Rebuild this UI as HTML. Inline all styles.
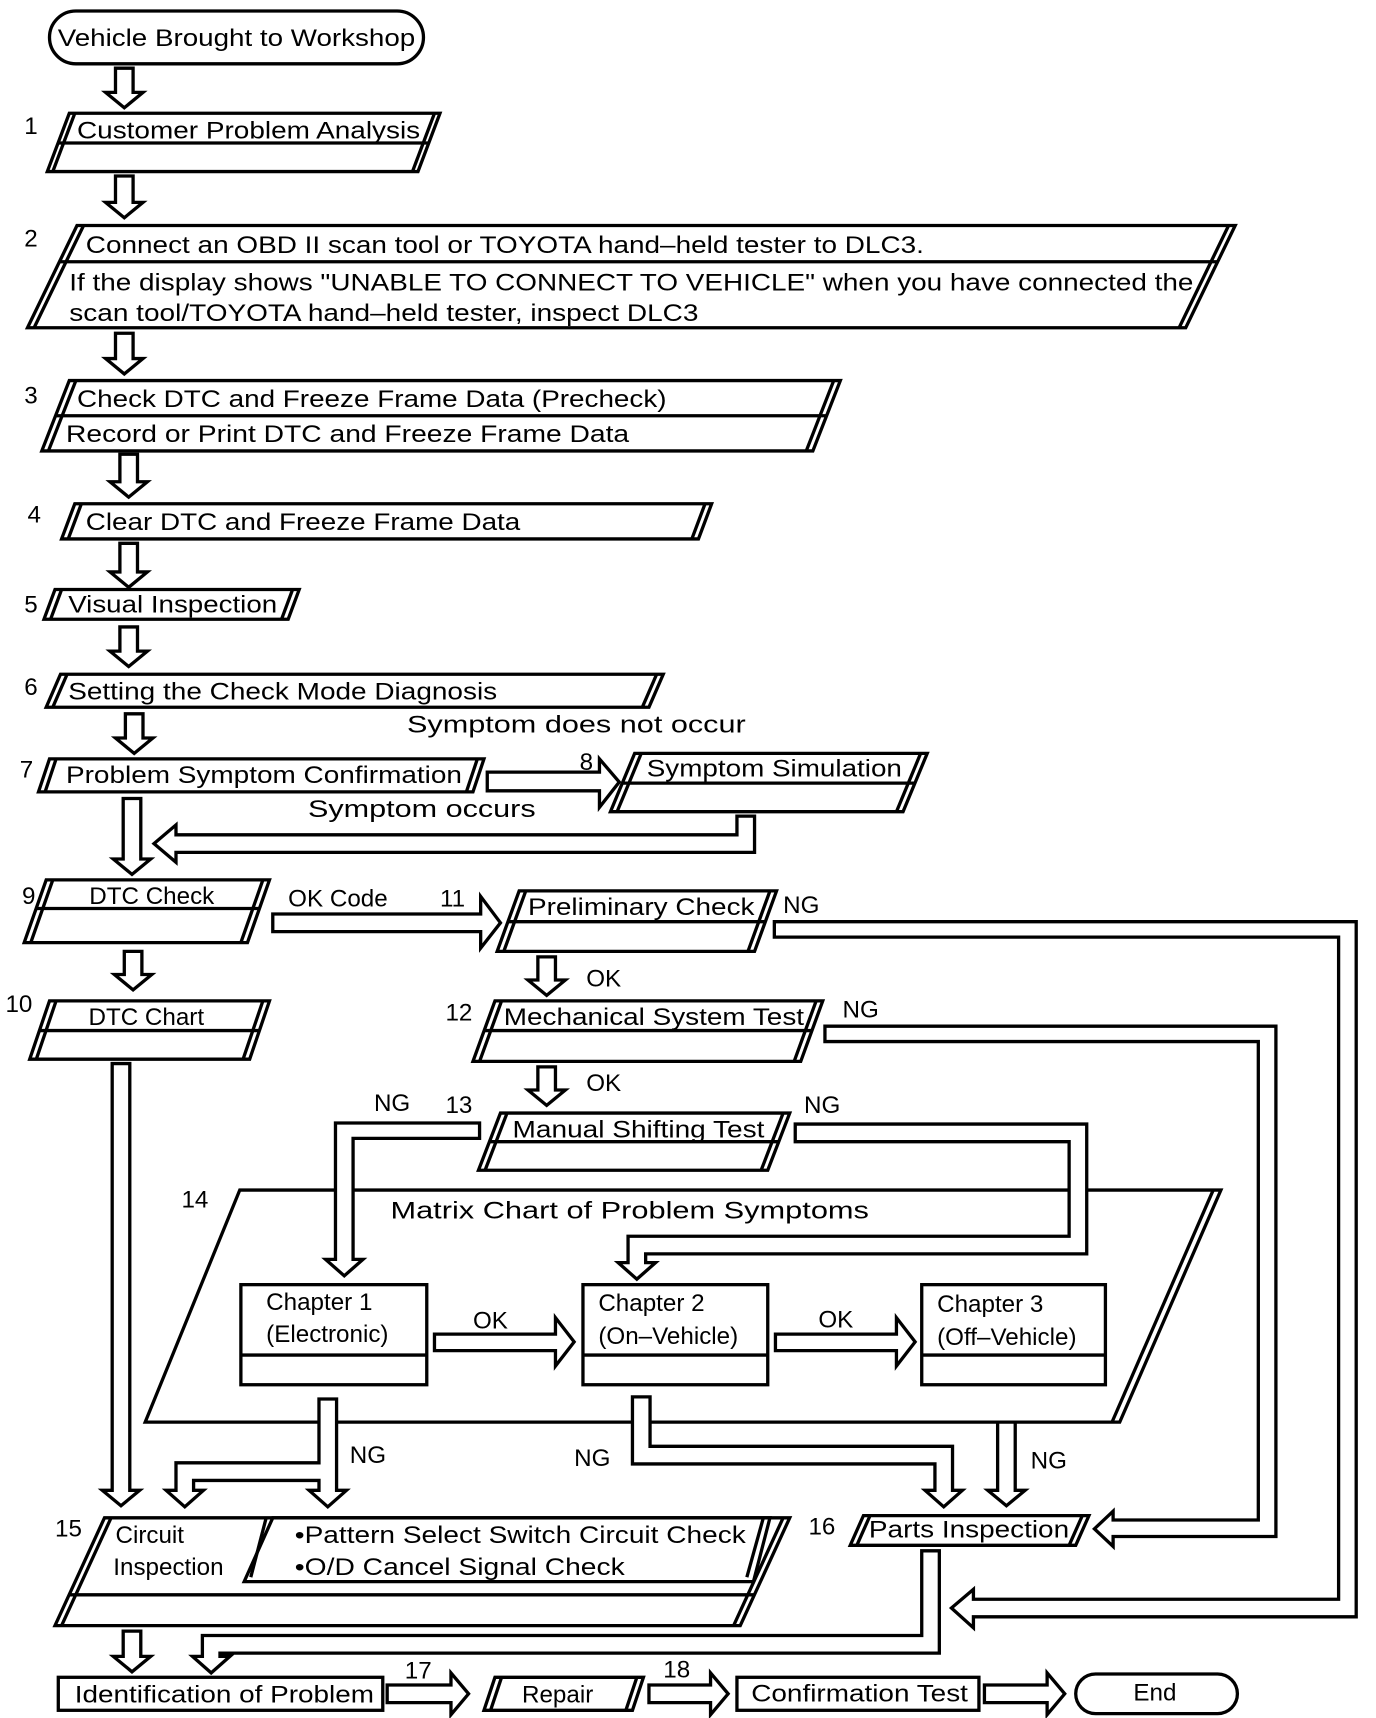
<!DOCTYPE html>
<html><head><meta charset="utf-8"><style>
html,body{margin:0;padding:0;background:#fff;}
svg{display:block;}
text{font-family:"Liberation Sans",sans-serif;font-size:22px;fill:#000;}
</style></head><body>
<svg width="1376" height="1718" viewBox="0 0 1251 1562" preserveAspectRatio="none" xmlns="http://www.w3.org/2000/svg">
<g fill="#fff" stroke="#000" stroke-width="3" stroke-linejoin="miter">

<!-- start -->
<rect x="45" y="10" width="340" height="48" rx="24"/>
<!-- arrows down -->
<path d="M105,62h16v22h9l-17,14l-17,-14h9z"/>
<path d="M105,160h16v24h9l-17,14l-17,-14h9z"/>
<path d="M105,303h16v23h9l-17,14l-17,-14h9z"/>
<path d="M109,413h16v25h9l-17,14l-17,-14h9z"/>
<path d="M109,494h16v26h9l-17,14l-17,-14h9z"/>
<path d="M109,570h16v22h9l-17,14l-17,-14h9z"/>
<path d="M114,649h16v22h9l-17,14l-17,-14h9z"/>
<path d="M112,726h16v55h9l-17,14l-17,-14h9z"/>
<path d="M113,865h16v21h9l-17,14l-17,-14h9z"/>
<path d="M102,967h16v388h9l-17,14l-17,-14h9z"/>
<path d="M489,870h16v21h9l-17,14l-17,-14h9z"/>
<path d="M489,970h16v21h9l-17,14l-17,-14h9z"/>
<path d="M907,1270h16v85h9l-17,14l-17,-14h9z"/>
<path d="M112,1483h16v23h9l-17,14l-17,-14h9z"/>

<!-- 1 -->
<polygon points="63,103 400,103 380,156 43,156"/>
<line x1="53" y1="130" x2="390" y2="130"/>
<line x1="68" y1="103" x2="48" y2="156"/><line x1="395" y1="103" x2="375" y2="156"/>
<!-- 2 -->
<polygon points="70,205 1123,205 1078,298 25,298"/>
<line x1="54" y1="238" x2="1107" y2="238"/>
<line x1="76" y1="205" x2="31" y2="298"/><line x1="1117" y1="205" x2="1072" y2="298"/>
<!-- 3 -->
<polygon points="63,346 764,346 739,410 38,410"/>
<line x1="51" y1="378" x2="752" y2="378"/>
<line x1="69" y1="346" x2="44" y2="410"/><line x1="758" y1="346" x2="733" y2="410"/>
<!-- 4 -->
<polygon points="68,458 647,458 635,490 56,490"/>
<line x1="74" y1="458" x2="62" y2="490"/><line x1="641" y1="458" x2="629" y2="490"/>
<!-- 5 -->
<polygon points="50,536 272,536 262,563 40,563"/>
<line x1="56" y1="536" x2="46" y2="563"/><line x1="266" y1="536" x2="256" y2="563"/>
<!-- 6 -->
<polygon points="55,613 603,613 590,643 42,643"/>
<line x1="61" y1="613" x2="48" y2="643"/><line x1="597" y1="613" x2="584" y2="643"/>
<!-- 7 -->
<polygon points="45,690 440,690 430,720 35,720"/>
<line x1="51" y1="690" x2="41" y2="720"/><line x1="434" y1="690" x2="424" y2="720"/>
<!-- 7->8 arrow -->
<path d="M443,702H545V690L563,711L545,734V719H443Z"/>
<!-- 8 -->
<polygon points="577,685 843,685 821,738 555,738"/>
<line x1="566" y1="712" x2="832" y2="712"/>
<line x1="583" y1="685" x2="561" y2="738"/><line x1="837" y1="685" x2="815" y2="738"/>
<!-- return arrow -->
<path d="M670,742H686V775H160V784L140,767L160,750V759H670Z"/>

<!-- 9 -->
<polygon points="42,800 245,800 225,857 22,857"/>
<line x1="32" y1="826" x2="235" y2="826"/>
<line x1="48" y1="800" x2="28" y2="857"/><line x1="239" y1="800" x2="219" y2="857"/>
<path d="M248,831H437V815L455,839L437,862V847H248Z"/>
<!-- 10 -->
<polygon points="45,910 245,910 227,963 27,963"/>
<line x1="36" y1="937" x2="236" y2="937"/>
<line x1="51" y1="910" x2="33" y2="963"/><line x1="239" y1="910" x2="221" y2="963"/>
<!-- 11 -->
<polygon points="472,810 706,810 686,865 452,865"/>
<line x1="462" y1="838" x2="696" y2="838"/>
<line x1="478" y1="810" x2="458" y2="865"/><line x1="700" y1="810" x2="680" y2="865"/>
<!-- 11 NG -->
<path d="M704,838H1233V1470H885V1480L865,1462L885,1445V1454H1217V852H704Z"/>
<!-- 12 -->
<polygon points="450,910 748,910 728,965 430,965"/>
<line x1="440" y1="937" x2="738" y2="937"/>
<line x1="456" y1="910" x2="436" y2="965"/><line x1="742" y1="910" x2="722" y2="965"/>
<path d="M750,933H1160V1397H1012V1406L995,1390L1012,1374V1382H1144V947H750Z"/>
<!-- 13 -->
<polygon points="455,1012 718,1012 698,1064 435,1064"/>
<line x1="446" y1="1038" x2="709" y2="1038"/>
<line x1="461" y1="1012" x2="441" y2="1064"/><line x1="712" y1="1012" x2="692" y2="1064"/>

<!-- 14 big -->
<polygon points="218,1082 1110,1082 1018,1293 132,1293"/>
<line x1="1103" y1="1082" x2="1011" y2="1293"/>
<!-- NG from 13 left -->
<path d="M436,1021H305V1145H296L313,1160L330,1145H321V1035H436Z"/>
<!-- NG from 13 right -->
<path d="M723,1022H988V1140H587V1148H596L579,1163L562,1148H571V1124H972V1038H723Z"/>
<!-- chapters -->
<rect x="219" y="1168" width="169" height="91"/><line x1="219" y1="1232" x2="388" y2="1232"/>
<rect x="530" y="1168" width="168" height="91"/><line x1="530" y1="1232" x2="698" y2="1232"/>
<rect x="838" y="1168" width="167" height="91"/><line x1="838" y1="1232" x2="1005" y2="1232"/>
<path d="M395,1213H505V1198L522,1220L505,1242V1228H395Z"/>
<path d="M705,1213H815V1198L832,1220L815,1242V1228H705Z"/>
<!-- ch1 NG -->
<path d="M290,1272H306V1355H315L298,1370L281,1355H290V1346H176V1355H185L168,1370L151,1355H160V1330H290Z"/>
<!-- ch2 NG -->
<path d="M575,1270H591V1315H866V1355H875L858,1370L841,1355H850V1331H575Z"/>

<!-- 15 -->
<polygon points="95,1380 718,1380 673,1478 50,1478"/>
<line x1="62" y1="1450" x2="686" y2="1450"/>
<line x1="101" y1="1380" x2="56" y2="1478"/><line x1="712" y1="1380" x2="667" y2="1478"/>
<polygon points="248,1380 700,1380 685,1438 222,1438"/>
<line x1="242" y1="1380" x2="228" y2="1434"/><line x1="694" y1="1380" x2="679" y2="1434"/>
<!-- 16 -->
<polygon points="785,1378 990,1378 978,1405 773,1405"/>
<line x1="791" y1="1378" x2="779" y2="1405"/><line x1="984" y1="1378" x2="972" y2="1405"/>
<path d="M838,1410H854V1503H200V1506H209L192,1521L175,1506H184V1487H838Z"/>

<!-- bottom row -->
<rect x="53" y="1525" width="295" height="30"/>
<path d="M352,1532H410V1521L426,1540L410,1559V1548H352Z"/>
<polygon points="450,1525 585,1525 575,1555 440,1555"/>
<line x1="456" y1="1525" x2="446" y2="1555"/><line x1="579" y1="1525" x2="569" y2="1555"/>
<path d="M590,1532H646V1521L662,1540L646,1559V1548H590Z"/>
<rect x="670" y="1525" width="220" height="30"/>
<path d="M895,1532H952V1521L968,1540L952,1559V1548H895Z"/>
<rect x="978" y="1522" width="147" height="36" rx="18"/>
</g>

<g>
<text x="215" y="42" text-anchor="middle" textLength="325" lengthAdjust="spacingAndGlyphs">Vehicle Brought to Workshop</text>
<text x="22" y="122">1</text>
<text x="70" y="126" textLength="312" lengthAdjust="spacingAndGlyphs">Customer Problem Analysis</text>
<text x="22" y="224">2</text>
<text x="78" y="230" textLength="762" lengthAdjust="spacingAndGlyphs">Connect an OBD II scan tool or TOYOTA hand–held tester to DLC3.</text>
<text x="63" y="264" textLength="1022" lengthAdjust="spacingAndGlyphs">If the display shows "UNABLE TO CONNECT TO VEHICLE" when you have connected the</text>
<text x="63" y="292" textLength="572" lengthAdjust="spacingAndGlyphs">scan tool/TOYOTA hand–held tester, inspect DLC3</text>
<text x="22" y="367">3</text>
<text x="70" y="370" textLength="536" lengthAdjust="spacingAndGlyphs">Check DTC and Freeze Frame Data (Precheck)</text>
<text x="60" y="402" textLength="512" lengthAdjust="spacingAndGlyphs">Record or Print DTC and  Freeze Frame Data</text>
<text x="25" y="475">4</text>
<text x="78" y="482" textLength="395" lengthAdjust="spacingAndGlyphs">Clear DTC and Freeze Frame Data</text>
<text x="22" y="557">5</text>
<text x="62" y="557" textLength="190" lengthAdjust="spacingAndGlyphs">Visual Inspection</text>
<text x="22" y="632">6</text>
<text x="62" y="636" textLength="390" lengthAdjust="spacingAndGlyphs">Setting the Check Mode Diagnosis</text>
<text x="370" y="666" font-size="24" textLength="308" lengthAdjust="spacingAndGlyphs">Symptom does not occur</text>
<text x="18" y="707">7</text>
<text x="60" y="712" textLength="360" lengthAdjust="spacingAndGlyphs">Problem Symptom Confirmation</text>
<text x="527" y="700">8</text>
<text x="588" y="706" textLength="232" lengthAdjust="spacingAndGlyphs">Symptom Simulation</text>
<text x="280" y="743" font-size="24" textLength="207" lengthAdjust="spacingAndGlyphs">Symptom occurs</text>
<text x="20" y="822">9</text>
<text x="138" y="822" text-anchor="middle">DTC Check</text>
<text x="262" y="824" font-size="24">OK Code</text>
<text x="400" y="824" font-size="24">11</text>
<text x="480" y="832" textLength="206" lengthAdjust="spacingAndGlyphs">Preliminary Check</text>
<text x="712" y="830" font-size="24">NG</text>
<text x="533" y="897" font-size="24">OK</text>
<text x="5" y="920" font-size="24">10</text>
<text x="133" y="932" text-anchor="middle">DTC Chart</text>
<text x="405" y="928" font-size="24">12</text>
<text x="458" y="932" textLength="273" lengthAdjust="spacingAndGlyphs">Mechanical System Test</text>
<text x="766" y="925" font-size="24">NG</text>
<text x="533" y="992" font-size="24">OK</text>
<text x="340" y="1010" font-size="24">NG</text>
<text x="405" y="1012" font-size="24">13</text>
<text x="466" y="1034" textLength="229" lengthAdjust="spacingAndGlyphs">Manual Shifting Test</text>
<text x="731" y="1012" font-size="24">NG</text>
<text x="165" y="1098" font-size="24">14</text>
<text x="355" y="1108" font-size="24" textLength="435" lengthAdjust="spacingAndGlyphs">Matrix Chart of Problem Symptoms</text>
<text x="242" y="1191">Chapter 1</text>
<text x="242" y="1220">(Electronic)</text>
<text x="544" y="1192">Chapter 2</text>
<text x="544" y="1222">(On–Vehicle)</text>
<text x="852" y="1193">Chapter 3</text>
<text x="852" y="1223">(Off–Vehicle)</text>
<text x="430" y="1208" font-size="24">OK</text>
<text x="744" y="1207" font-size="24">OK</text>
<text x="318" y="1330" font-size="24">NG</text>
<text x="522" y="1333" font-size="24">NG</text>
<text x="937" y="1335" font-size="24">NG</text>
<text x="50" y="1397" font-size="24">15</text>
<text x="105" y="1403">Circuit</text>
<text x="103" y="1432">Inspection</text>
<text x="268" y="1403" textLength="410" lengthAdjust="spacingAndGlyphs">•Pattern Select Switch Circuit Check</text>
<text x="268" y="1432" textLength="300" lengthAdjust="spacingAndGlyphs">•O/D Cancel Signal Check</text>
<text x="735" y="1395" font-size="24">16</text>
<text x="790" y="1398" textLength="182" lengthAdjust="spacingAndGlyphs">Parts Inspection</text>
<text x="68" y="1548" textLength="272" lengthAdjust="spacingAndGlyphs">Identification of Problem</text>
<text x="368" y="1526" font-size="24">17</text>
<text x="507" y="1548" text-anchor="middle">Repair</text>
<text x="603" y="1525" font-size="24">18</text>
<text x="683" y="1547" textLength="197" lengthAdjust="spacingAndGlyphs">Confirmation Test</text>
<text x="1050" y="1546" text-anchor="middle">End</text>
</g>
</svg>
</body></html>
